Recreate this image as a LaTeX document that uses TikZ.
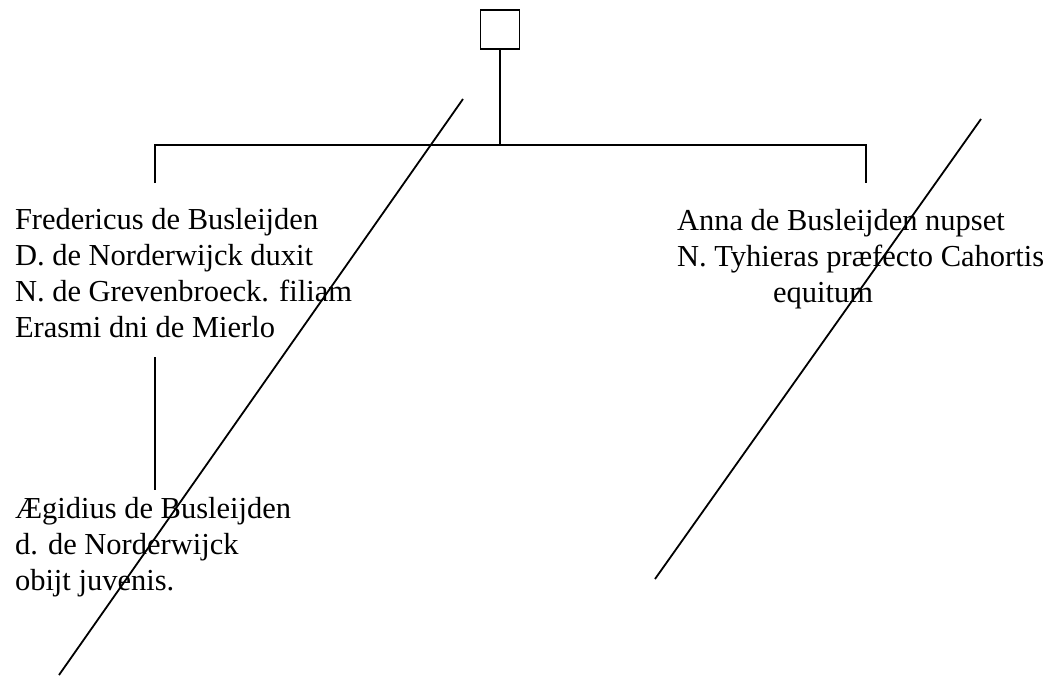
\documentclass[tikz,border=0pt]{standalone}
\usepackage{fontspec}
\setmainfont{Liberation Serif}
\begin{document}
\begin{tikzpicture}[x=1pt,y=-1pt,
  line/.style={line width=1.8pt,black},
  person/.style={inner sep=0pt,outer sep=0pt,align=left,anchor=base west,
    font=\fontsize{30.5}{36}\selectfont}]
\useasboundingbox (0,0) rectangle (1064,675);
\node[draw,line width=1.8pt,minimum width=39pt,minimum height=39pt,inner sep=0pt] (top) at (500,29.5) {};
\coordinate (mid) at (500,145);
\coordinate (lj) at (155,145);
\coordinate (rj) at (866,145);
\coordinate (ld) at (155,183);
\coordinate (rd) at (866,183);
\coordinate (cu) at (155,357);
\coordinate (cd) at (155,490);
\node[person] (fred) at (15,337) {Fredericus de Busleijden\\D. de Norderwijck duxit\\N. de Grevenbroeck. filiam\\Erasmi dni de Mierlo};
\node[person] (anna) at (677,302) {Anna de Busleijden nupset\\N. Tyhieras præfecto Cahortis\\\hspace*{96pt}equitum};
\node[person] (aeg) at (15,590) {Ægidius de Busleijden\\d. de Norderwijck\\obijt juvenis.};
\draw[line] (top.south) -- (mid);
\draw[line] (ld) -- (lj) -- (rj) -- (rd);
\draw[line] (cu) -- (cd);
\coordinate (x1a) at (463,99);
\coordinate (x1b) at (59,675);
\coordinate (x2a) at (981,119);
\coordinate (x2b) at (655,579);
\draw[line] (x1a) -- (x1b);
\draw[line] (x2a) -- (x2b);
\end{tikzpicture}
\end{document}
